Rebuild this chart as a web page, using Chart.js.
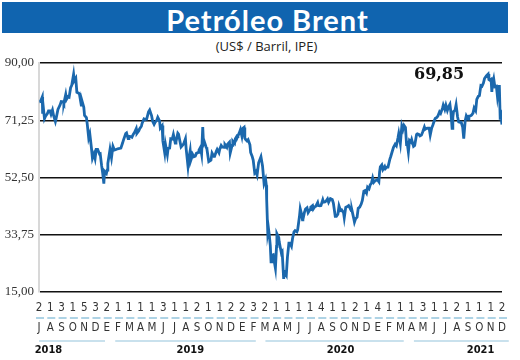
<!DOCTYPE html>
<html>
<head>
<meta charset="utf-8">
<script src="https://cdn.jsdelivr.net/npm/chart.js@4.4.1/dist/chart.umd.min.js"></script>
<style>
  body { margin: 0; background: #fff; }
  #wrap { position: relative; width: 520px; height: 360px; }
  #bar { position: absolute; left: 2px; top: 2px; width: 506px; height: 31px; background: #1064af; }
  #title { position: absolute; left: 0; top: 2px; width: 535px; height: 31px; line-height: 31px; text-align: center;
           color: #fff; font: bold 29px Lato, sans-serif; letter-spacing: 1px; }
  #subtitle { position: absolute; left: 0; top: 37px; width: 533px; text-align: center; color: #222;
              font: 13px "Open Sans", sans-serif; }
  #last { position: absolute; left: 414px; top: 64px; color: #111; font: bold 16px "DejaVu Serif", serif; }
  canvas { position: absolute; left: 0; top: 0; }
</style>
</head>
<body>
<div id="wrap">
  <div id="bar"></div>
  <div id="title">Petróleo Brent</div>
  <div id="subtitle">(US$ / Barril, IPE)</div>
  <canvas id="chartCanvas" width="520" height="360"></canvas>
  <div id="last">69,85</div>
</div>
<script>
// y axis ticks
const yTicks = [15, 33.75, 52.5, 71.25, 90];

// one entry per month, Jul 2018 .. Dec 2021
const monthLetters = ['J','A','S','O','N','D',
  'E','F','M','A','M','J','J','A','S','O','N','D',
  'E','F','M','A','M','J','J','A','S','O','N','D',
  'E','F','M','A','M','J','J','A','S','O','N','D'];
const monthNumbers = ['2','1','3','1','5','3',
  '2','1','1','1','1','3','1','1','2','1','1','2',
  '2','3','2','1','1','1','1','4','1','1','2','1',
  '4','1','1','1','3','1','1','2','1','1','1','2'];

const years = ['2018', '2019', '2020', '2021'];

// Brent close, US$ per barrel
const dates = [
  '2018-07-02','2018-07-05','2018-07-10','2018-07-11','2018-07-13','2018-07-16','2018-07-19','2018-07-24','2018-07-27','2018-07-31',
  '2018-08-03','2018-08-07','2018-08-10','2018-08-15','2018-08-17','2018-08-22','2018-08-28','2018-08-31',
  '2018-09-05','2018-09-07','2018-09-12','2018-09-14','2018-09-18','2018-09-21','2018-09-25','2018-09-28',
  '2018-10-03','2018-10-05','2018-10-09','2018-10-12','2018-10-17','2018-10-19','2018-10-24','2018-10-26','2018-10-31',
  '2018-11-02','2018-11-07','2018-11-09','2018-11-13','2018-11-16','2018-11-20','2018-11-23','2018-11-27','2018-11-30',
  '2018-12-03','2018-12-07','2018-12-12','2018-12-14','2018-12-18','2018-12-21','2018-12-24','2018-12-26','2018-12-31',
  '2019-01-02','2019-01-04','2019-01-10','2019-01-14','2019-01-18','2019-01-22','2019-01-25','2019-01-31',
  '2019-02-05','2019-02-08','2019-02-12','2019-02-14','2019-02-20','2019-02-22','2019-02-26','2019-02-28',
  '2019-03-05','2019-03-08','2019-03-12','2019-03-15','2019-03-20','2019-03-22','2019-03-27','2019-03-29',
  '2019-04-03','2019-04-05','2019-04-10','2019-04-12','2019-04-17','2019-04-22','2019-04-25','2019-04-30',
  '2019-05-03','2019-05-07','2019-05-10','2019-05-14','2019-05-17','2019-05-22','2019-05-24','2019-05-29','2019-05-31',
  '2019-06-05','2019-06-07','2019-06-12','2019-06-14','2019-06-18','2019-06-21','2019-06-25','2019-06-28',
  '2019-07-03','2019-07-05','2019-07-10','2019-07-12','2019-07-17','2019-07-19','2019-07-24','2019-07-26','2019-07-31',
  '2019-08-02','2019-08-07','2019-08-09','2019-08-13','2019-08-15','2019-08-20','2019-08-23','2019-08-27','2019-08-30',
  '2019-09-04','2019-09-06','2019-09-10','2019-09-13','2019-09-16','2019-09-18','2019-09-20','2019-09-25','2019-09-27',
  '2019-10-02','2019-10-08','2019-10-11','2019-10-16','2019-10-18','2019-10-23','2019-10-25','2019-10-30',
  '2019-11-01','2019-11-05','2019-11-08','2019-11-13','2019-11-15','2019-11-20','2019-11-22','2019-11-27','2019-11-29',
  '2019-12-04','2019-12-06','2019-12-11','2019-12-13','2019-12-18','2019-12-20','2019-12-24','2019-12-27','2019-12-31',
  '2020-01-03','2020-01-06','2020-01-08','2020-01-10','2020-01-14','2020-01-17','2020-01-22','2020-01-24','2020-01-28','2020-01-31',
  '2020-02-04','2020-02-07','2020-02-10','2020-02-14','2020-02-20','2020-02-24','2020-02-28',
  '2020-03-03','2020-03-05','2020-03-06','2020-03-09','2020-03-11','2020-03-13','2020-03-16','2020-03-18','2020-03-20','2020-03-24','2020-03-27','2020-03-30',
  '2020-04-02','2020-04-03','2020-04-08','2020-04-09','2020-04-15','2020-04-17','2020-04-21','2020-04-23','2020-04-24','2020-04-28',
  '2020-05-01','2020-05-05','2020-05-08','2020-05-12','2020-05-15','2020-05-19','2020-05-22','2020-05-27','2020-05-29',
  '2020-06-03','2020-06-05','2020-06-08','2020-06-11','2020-06-12','2020-06-16','2020-06-19','2020-06-23','2020-06-26',
  '2020-07-01','2020-07-03','2020-07-08','2020-07-10','2020-07-14','2020-07-17','2020-07-22','2020-07-24','2020-07-28','2020-07-31',
  '2020-08-05','2020-08-07','2020-08-11','2020-08-14','2020-08-18','2020-08-21','2020-08-26','2020-08-31',
  '2020-09-03','2020-09-08','2020-09-11','2020-09-15','2020-09-18','2020-09-22','2020-09-25','2020-09-30',
  '2020-10-02','2020-10-06','2020-10-09','2020-10-14','2020-10-16','2020-10-21','2020-10-23','2020-10-28','2020-10-30',
  '2020-11-02','2020-11-06','2020-11-09','2020-11-13','2020-11-17','2020-11-20','2020-11-24','2020-11-27',
  '2020-12-01','2020-12-04','2020-12-08','2020-12-11','2020-12-15','2020-12-18','2020-12-21','2020-12-24','2020-12-31',
  '2021-01-04','2021-01-06','2021-01-08','2021-01-12','2021-01-15','2021-01-20','2021-01-22','2021-01-26','2021-01-29',
  '2021-02-03','2021-02-05','2021-02-09','2021-02-12','2021-02-16','2021-02-19','2021-02-23','2021-02-25',
  '2021-03-01','2021-03-05','2021-03-08','2021-03-11','2021-03-15','2021-03-18','2021-03-19','2021-03-23','2021-03-26','2021-03-30',
  '2021-04-01','2021-04-06','2021-04-09','2021-04-14','2021-04-16','2021-04-20','2021-04-23','2021-04-27','2021-04-30',
  '2021-05-05','2021-05-07','2021-05-11','2021-05-14','2021-05-18','2021-05-21','2021-05-25','2021-05-28',
  '2021-06-02','2021-06-04','2021-06-08','2021-06-11','2021-06-15','2021-06-18','2021-06-23','2021-06-25','2021-06-29',
  '2021-07-02','2021-07-06','2021-07-09','2021-07-13','2021-07-16','2021-07-19','2021-07-21','2021-07-23','2021-07-27','2021-07-30',
  '2021-08-03','2021-08-06','2021-08-10','2021-08-13','2021-08-17','2021-08-20','2021-08-24','2021-08-27',
  '2021-09-01','2021-09-03','2021-09-07','2021-09-10','2021-09-14','2021-09-17','2021-09-21','2021-09-24','2021-09-28',
  '2021-10-01','2021-10-05','2021-10-08','2021-10-12','2021-10-15','2021-10-20','2021-10-25','2021-10-27','2021-10-29',
  '2021-11-02','2021-11-04','2021-11-05','2021-11-09','2021-11-12','2021-11-16','2021-11-19','2021-11-23','2021-11-24','2021-11-26','2021-11-29','2021-11-30',
  '2021-12-01'
];
const prices = [
  77.3,77.4,78.9,73.4,75.3,71.8,72.6,73.4,74.3,74.3,
  73.2,74.6,72.8,70.8,71.8,74.8,76.3,77.4,
  77.3,76.8,79.7,78.1,79.0,78.8,81.9,82.7,
  86.3,84.2,85.0,80.4,80.1,79.8,76.2,77.6,75.5,
  72.8,72.1,70.2,65.5,66.8,62.5,58.8,60.2,58.7,
  61.7,61.7,60.2,60.3,56.3,53.8,50.5,54.5,53.8,
  54.9,57.1,61.7,59.0,62.7,61.5,61.6,61.9,
  62.0,62.1,63.7,64.6,66.9,67.1,65.2,66.0,
  65.9,65.7,66.7,67.2,68.5,67.0,67.8,68.4,
  69.3,70.3,71.7,71.6,71.6,74.0,74.6,72.8,
  70.9,69.9,70.6,71.2,72.2,71.0,68.7,69.5,64.5,
  60.6,63.3,60.0,62.0,62.1,65.2,65.1,66.6,
  63.8,64.2,67.0,66.7,63.7,62.5,63.2,63.5,65.2,
  61.9,56.2,58.5,61.3,58.2,60.0,59.3,59.5,60.4,
  60.7,61.5,62.4,60.2,69.0,63.6,64.3,62.4,61.9,
  57.7,58.2,60.5,59.4,59.4,61.2,61.7,60.6,
  61.7,63.0,62.5,62.4,63.3,62.4,63.4,64.1,60.5,
  63.0,64.4,63.7,65.2,66.2,66.1,67.2,68.2,66.0,
  68.6,68.9,65.4,65.0,64.5,64.9,63.2,60.7,59.5,58.2,
  54.0,54.5,53.3,57.3,59.3,56.3,50.5,
  51.9,50.0,45.3,34.4,35.8,33.9,30.1,24.9,27.0,27.2,24.9,22.8,
  29.9,34.1,32.8,31.5,27.7,28.1,19.3,21.3,21.4,20.5,
  26.4,31.0,31.0,30.0,32.5,34.7,35.1,34.7,35.3,
  39.8,42.3,40.8,38.6,38.7,41.0,42.2,42.6,41.0,
  42.0,42.8,43.3,42.2,42.9,43.1,44.3,43.3,43.2,43.3,
  45.2,44.4,44.5,44.8,45.5,44.4,45.6,45.3,
  44.1,39.8,39.8,40.5,43.2,41.7,41.9,41.0,
  39.3,42.7,42.9,43.3,42.9,41.7,41.8,39.1,37.9,
  39.0,39.5,42.4,42.8,43.8,45.0,48.0,48.2,
  47.4,49.3,48.8,50.0,50.8,52.3,50.9,51.3,51.8,
  51.1,54.3,56.0,56.6,55.1,56.1,55.4,55.9,55.9,
  58.5,59.3,61.1,62.4,63.4,62.9,65.4,66.9,
  63.7,69.4,68.2,69.6,68.9,63.3,64.5,60.8,64.6,64.1,
  64.9,62.7,63.0,66.6,66.8,66.6,66.1,66.4,67.3,
  69.0,68.3,68.6,68.7,68.7,66.4,68.7,69.6,
  71.4,71.9,72.2,72.7,74.0,73.5,75.2,76.2,74.8,
  76.2,74.5,75.6,76.5,73.6,68.6,72.2,74.1,74.5,76.3,
  72.4,70.7,70.6,70.6,69.0,65.2,71.1,72.7,
  71.6,72.6,72.7,72.9,73.6,75.3,74.4,78.1,79.1,
  79.3,82.6,82.4,83.4,84.9,85.8,86.4,84.6,84.4,
  84.7,80.5,82.7,84.8,82.2,82.4,78.9,82.3,82.3,72.7,73.4,70.6,
  69.85
];

// months since 1 Jul 2018
function monthOffset(s) {
  const [y, m, d] = s.split('-').map(Number);
  const dim = new Date(y, m, 0).getDate();
  return (y - 2018) * 12 + (m - 7) + (d - 1) / dim;
}

const points = dates.map((d, i) => ({ x: monthOffset(d), y: prices[i] }));

const condensed = "'Liberation Sans Narrow', 'DejaVu Sans Condensed', 'Roboto Condensed', Roboto, sans-serif";

// dashes under the number row, year underlines and year labels
const axisDecor = {
  id: 'axisDecor',
  afterDraw(chart) {
    const c = chart.ctx;
    const xs = chart.scales.x;
    c.save();
    c.strokeStyle = '#93c4dc';
    c.lineWidth = 1.5;
    for (let i = 0; i < monthLetters.length; i++) {
      const px = xs.getPixelForValue(i);
      c.beginPath();
      c.moveTo(px - 3, 318);
      c.lineTo(px + 5, 318);
      c.stroke();
    }
    // year spans in months (as placed in the original)
    const spans = [[0, 5.85], [6.75, 19.2], [20.05, 32.3], [33.2, 41.6]];
    const labelAt = [0.84, 13.4, 26.7, 39.1];
    c.lineWidth = 1.2;
    c.fillStyle = '#111';
    c.font = "bold 11px " + condensed;
    c.textAlign = 'center';
    c.textBaseline = 'middle';
    years.forEach((yr, i) => {
      c.beginPath();
      c.moveTo(xs.getPixelForValue(spans[i][0]), 341);
      c.lineTo(xs.getPixelForValue(spans[i][1]), 341);
      c.stroke();
      c.fillText(yr, xs.getPixelForValue(labelAt[i]), 350);
    });
    c.restore();
  }
};

const ctx = document.getElementById('chartCanvas').getContext('2d');
new Chart(ctx, {
  type: 'line',
  data: {
    datasets: [{
      data: points,
      borderColor: '#1b68ad',
      borderWidth: 2.8,
      pointRadius: 0,
      tension: 0,
      fill: false
    }]
  },
  options: {
    responsive: false,
    animation: false,
    devicePixelRatio: 1,
    layout: { padding: { top: 63, right: 18, left: 0, bottom: 0 } },
    plugins: { legend: { display: false }, tooltip: { enabled: false } },
    scales: {
      x: {
        type: 'linear',
        min: 0,
        max: 41,
        afterFit(scale) { scale.height = 68; },
        grid: { display: false, drawTicks: false },
        border: { display: false },
        ticks: {
          stepSize: 1,
          autoSkip: false,
          maxRotation: 0,
          padding: 6,
          color: '#333',
          font: { family: condensed, size: 11.5, lineHeight: 20 / 11.5 },
          callback: (v) => [monthNumbers[v], monthLetters[v]]
        }
      },
      y: {
        min: 15,
        max: 90,
        afterFit(scale) { scale.width = 39; },
        afterBuildTicks(scale) { scale.ticks = yTicks.map(v => ({ value: v })); },
        grid: { color: '#111', lineWidth: 1.5, drawTicks: false },
        border: { display: true, color: '#d8d8d8', width: 2 },
        ticks: {
          padding: 5,
          color: '#333',
          font: { family: "'Liberation Serif', serif", size: 13 },
          callback: (v) => v.toFixed(2).replace('.', ',')
        }
      }
    }
  },
  plugins: [axisDecor]
});
</script>
</body>
</html>
